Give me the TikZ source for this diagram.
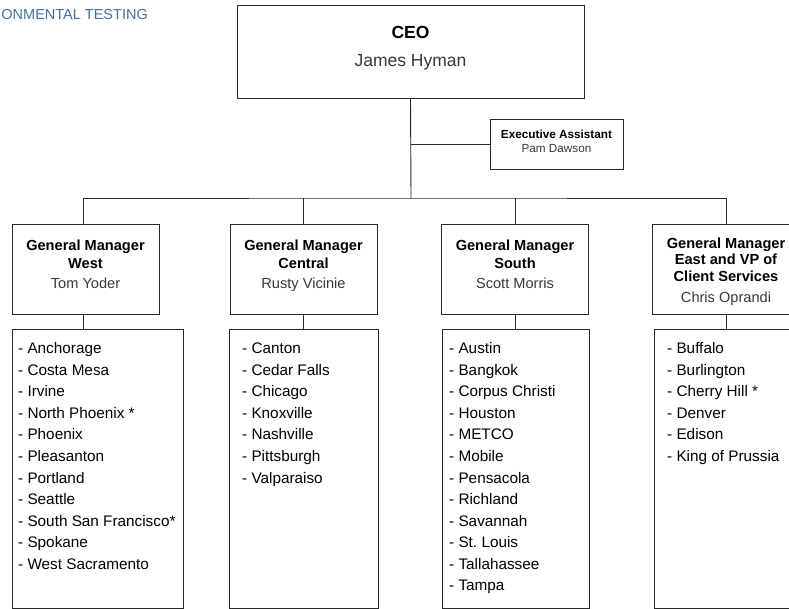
\documentclass[tikz,border=0pt]{standalone}
\usepackage{fontspec}
\setmainfont{Liberation Sans}
\usepackage{xcolor}
\usetikzlibrary{calc}

\definecolor{titleblue}{RGB}{66,112,160}
\definecolor{namegray}{RGB}{55,55,55}
\definecolor{linegray}{RGB}{40,40,40}

% extra depth under the last line, to lift the text a little in its box
\newcommand{\liftby}[1]{\rule[-#1]{0pt}{#1}}

\tikzset{
    orgbox/.style={rectangle,draw=linegray,line width=0.9pt,inner sep=2pt,align=center},
    gmbox/.style={orgbox,minimum width=147pt,minimum height=90pt,font=\fontsize{14.6}{18}\selectfont},
    sitebox/.style={rectangle,draw=linegray,line width=0.9pt,minimum height=278.5pt,anchor=north west},
    sitelist/.style={inner sep=0pt,anchor=north west,align=left,font=\fontsize{15.3}{21.55}\selectfont},
    link/.style={draw=linegray,line width=0.9pt}
}

\begin{document}
\begin{tikzpicture}[x=1pt,y=-1pt]
                \clip (0,0) rectangle (789,609);
                \node[anchor=east,inner sep=0pt,text=titleblue,font=\fontsize{14.5}{16}\selectfont] (banner) at (148,15) {ONMENTAL TESTING};

                % top
                \node[orgbox,minimum width=347pt,minimum height=93pt,font=\fontsize{17.5}{28}\selectfont] (ceo) at (410.5,51.5) {\textbf{CEO}\\\textcolor{namegray}{James Hyman}\liftby{10pt}};
                \node[orgbox,minimum width=133pt,minimum height=50pt,font=\fontsize{11.75}{14}\selectfont] (assistant) at (556.5,144) {\textbf{Executive Assistant}\\\textcolor{namegray}{Pam Dawson}\liftby{6pt}};

                % general managers
                \node[gmbox] (gmwest) at (85.5,269) {\textbf{General Manager}\\\textbf{West}\\[2pt]\textcolor{namegray}{Tom Yoder}\liftby{10pt}};
                \node[gmbox] (gmcentral) at (303.5,269) {\textbf{General Manager}\\\textbf{Central}\\[2pt]\textcolor{namegray}{Rusty Vicinie}\liftby{10pt}};
                \node[gmbox] (gmsouth) at (515,269) {\textbf{General Manager}\\\textbf{South}\\[2pt]\textcolor{namegray}{Scott Morris}\liftby{10pt}};
                \node[gmbox,font=\fontsize{14.6}{16.5}\selectfont] (gmeast) at (726,269) {\rule{0pt}{16pt}\textbf{General Manager}\\\textbf{East and VP of}\\\textbf{Client Services}\\[4.5pt]\textcolor{namegray}{Chris Oprandi}};

                \coordinate (bus) at (411,198);
                \draw[link] (ceo.south) -- (bus);
                \draw[link] (ceo.south |- assistant.west) -- (assistant.west);
                \draw[link] ([xshift=-2.5pt]gmwest.north) |- (bus) -| (gmeast.north);
                \draw[link] (gmcentral.north) -- (gmcentral.north |- bus);
                \draw[link] (gmsouth.north) -- (gmsouth.north |- bus);

                % locations
                \node[sitebox,minimum width=171pt] (westsites) at (12,329) {};
                \node[sitebox,minimum width=149pt] (centralsites) at (229,329) {};
                \node[sitebox,minimum width=147pt] (southsites) at (442,329) {};
                \node[sitebox,minimum width=147pt] (eastsites) at (654,329) {};

                \node[sitelist] (westlist) at (18,338.5) {\strut- Anchorage\\- Costa Mesa\\- Irvine\\- North Phoenix *\\- Phoenix\\- Pleasanton\\- Portland\\- Seattle\\- South San Francisco*\\- Spokane\\- West Sacramento};
                \node[sitelist] (centrallist) at (242,338.5) {\strut- Canton\\- Cedar Falls\\- Chicago\\- Knoxville\\- Nashville\\- Pittsburgh\\- Valparaiso};
                \node[sitelist] (southlist) at (449,338.5) {\strut- Austin\\- Bangkok\\- Corpus Christi\\- Houston\\- METCO\\- Mobile\\- Pensacola\\- Richland\\- Savannah\\- St.\ Louis\\- Tallahassee\\- Tampa};
                \node[sitelist] (eastlist) at (667,338.5) {\strut- Buffalo\\- Burlington\\- Cherry Hill *\\- Denver\\- Edison\\- King of Prussia};

                \draw[link] ([xshift=-2.5pt]gmwest.south) -- ([xshift=-2.5pt]gmwest.south |- westsites.north);
                \draw[link] (gmcentral.south) -- (gmcentral.south |- centralsites.north);
                \draw[link] (gmsouth.south) -- (gmsouth.south |- southsites.north);
                \draw[link] (gmeast.south) -- (gmeast.south |- eastsites.north);
\end{tikzpicture}
\end{document}
